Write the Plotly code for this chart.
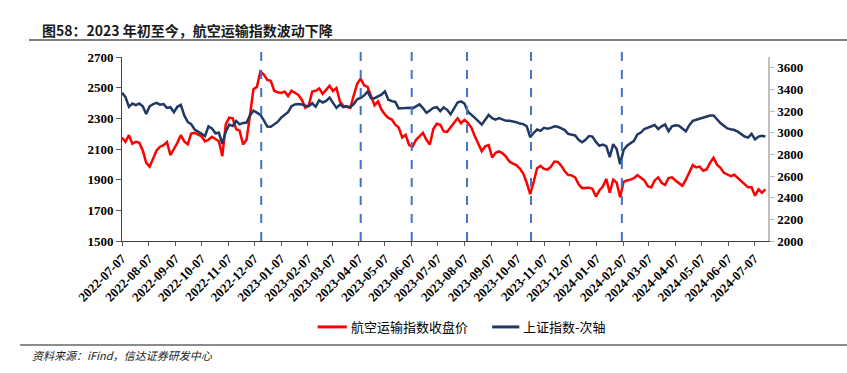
import plotly.graph_objects as go
import pandas as pd

# ---- data ----
dates = pd.date_range('2022-07-07', periods=187, freq='4D')

airline_close = [
    2175, 2147, 2190, 2135, 2147, 2140, 2090, 2010, 1985, 2040,
    2090, 2115, 2125, 2145, 2060, 2100, 2140, 2190, 2150, 2130,
    2200, 2205, 2195, 2183, 2150, 2160, 2180, 2165, 2150, 2053,
    2260, 2305, 2300, 2230, 2220, 2129, 2160, 2320, 2490, 2505,
    2605, 2585, 2550, 2545, 2480, 2470, 2465, 2475, 2445, 2480,
    2465, 2452, 2420, 2368, 2385, 2475, 2480, 2495, 2460, 2490,
    2512, 2478, 2498, 2410, 2380, 2375, 2368, 2450, 2525, 2559,
    2515, 2505, 2440, 2385, 2411, 2357, 2325, 2303, 2292, 2258,
    2240, 2175, 2192, 2125, 2115, 2160, 2183, 2205, 2160, 2129,
    2230, 2265, 2258, 2215, 2212, 2240, 2275, 2300, 2268, 2290,
    2270, 2240, 2183, 2129, 2086, 2118, 2125, 2045, 2075, 2085,
    2072, 2050, 2018, 2005, 1995, 1972, 1940, 1880, 1805, 1885,
    1975, 1990, 1970, 1965, 1985, 2018, 2015, 1990, 1955, 1930,
    1928, 1915, 1870, 1845, 1845, 1848, 1840, 1790, 1830, 1855,
    1905, 1815, 1900, 1880, 1785, 1885, 1895, 1900, 1910, 1930,
    1912, 1895, 1858, 1850, 1895, 1915, 1880, 1865, 1910, 1915,
    1895, 1875, 1860, 1900, 1950, 1995, 1980, 1985, 1958, 1967,
    2010, 2043, 1998, 1978, 1945, 1934, 1923, 1932, 1910, 1890,
    1868, 1850, 1850, 1795, 1837, 1815, 1837,
]

sse_index = [
    3370, 3330, 3240, 3270, 3255, 3270, 3245, 3174, 3245, 3265,
    3276, 3260, 3265, 3230, 3236, 3190, 3240, 3258, 3160, 3100,
    3080, 3030, 3010, 2990, 2970, 3060, 3040, 2995, 3000, 2900,
    3010, 3075, 3062, 3110, 3078, 3091, 3095, 3160, 3205, 3186,
    3165, 3115, 3058, 3055, 3080, 3100, 3140, 3165, 3190, 3245,
    3262, 3265, 3262, 3250, 3245, 3272, 3240, 3300, 3280, 3295,
    3325, 3276, 3230, 3260, 3236, 3245, 3236, 3265, 3310, 3322,
    3345, 3380, 3320, 3320, 3335, 3352, 3383, 3305, 3292, 3285,
    3225, 3228, 3225, 3230, 3225, 3242, 3262, 3228, 3184, 3205,
    3230, 3236, 3200, 3234, 3212, 3170, 3220, 3280, 3290, 3270,
    3195, 3170, 3138, 3107, 3076, 3120, 3165, 3135, 3122, 3135,
    3120, 3110, 3110, 3105, 3098, 3085, 3080, 3060, 2960, 2998,
    3030, 3018, 3045, 3038, 3045, 3060, 3055, 3040, 3025, 2990,
    2980, 2975, 2935, 2912, 2935, 2970, 2965, 2915, 2880, 2890,
    2876, 2775, 2895, 2850, 2710, 2840, 2880, 2900, 2925, 2985,
    3002, 3035, 3048, 3060, 3072, 3035, 3060, 3076, 3014, 3060,
    3070, 3065, 3040, 3014, 3070, 3110, 3120, 3130, 3142, 3155,
    3160, 3160, 3120, 3090, 3065, 3040, 3032, 3025, 3010, 2984,
    2965, 2955, 2990, 2938, 2965, 2972, 2965,
]

event_dates = ['2022-12-15', '2023-04-09', '2023-06-07',
               '2023-08-10', '2023-10-23', '2024-02-05']

x_ticks = [
    '2022-07-07', '2022-08-07', '2022-09-07', '2022-10-07', '2022-11-07',
    '2022-12-07', '2023-01-07', '2023-02-07', '2023-03-07', '2023-04-07',
    '2023-05-07', '2023-06-07', '2023-07-07', '2023-08-07', '2023-09-07',
    '2023-10-07', '2023-11-07', '2023-12-07', '2024-01-07', '2024-02-07',
    '2024-03-07', '2024-04-07', '2024-05-07', '2024-06-07', '2024-07-07',
]
left_ticks = [1500, 1700, 1900, 2100, 2300, 2500, 2700]
right_ticks = [2000, 2200, 2400, 2600, 2800, 3000, 3200, 3400, 3600]

name_red = '航空运输指数收盘价'
name_navy = '上证指数-次轴'
title_text = '图58：2023 年初至今，航空运输指数波动下降'
source_text = '资料来源：iFind，信达证券研发中心'

RED = '#FF0000'
NAVY = '#1F3864'
DASH_BLUE = '#4472C4'
serif_bold = dict(family='Liberation Serif, Times New Roman, serif', size=13,
                  color='black', weight='bold')
cjk = 'Noto Sans CJK SC, sans-serif'

fig = go.Figure()
fig.add_trace(go.Scatter(x=dates, y=airline_close, mode='lines', name=name_red,
                         line=dict(color=RED, width=2.5), yaxis='y'))
fig.add_trace(go.Scatter(x=dates, y=sse_index, mode='lines', name=name_navy,
                         line=dict(color=NAVY, width=2.5), yaxis='y2'))

shapes = []
for d in event_dates:
    shapes.append(dict(type='line', xref='x', yref='paper', x0=d, x1=d, y0=0, y1=1.03,
                       line=dict(color=DASH_BLUE, width=2, dash='dash')))
# title underline and footer separator
shapes.append(dict(type='line', xref='paper', yref='paper', x0=-0.144, x1=1.13,
                   y0=1.092, y1=1.092, line=dict(color='#7f7f7f', width=2)))
shapes.append(dict(type='line', xref='paper', yref='paper', x0=-0.158, x1=1.13,
                   y0=-0.565, y1=-0.565, line=dict(color='#8c8c8c', width=2)))
# legend keys
shapes.append(dict(type='line', xref='paper', yref='paper', x0=0.303, x1=0.348,
                   y0=-0.467, y1=-0.467, line=dict(color=RED, width=3)))
shapes.append(dict(type='line', xref='paper', yref='paper', x0=0.573, x1=0.615,
                   y0=-0.467, y1=-0.467, line=dict(color=NAVY, width=3)))

annotations = [
    dict(text='<b>' + title_text + '</b>', xref='paper', yref='paper', x=-0.127, y=1.147,
         xanchor='left', yanchor='middle', showarrow=False,
         font=dict(family=cjk, size=14, color='#1a1a1a')),
    dict(text=name_red, xref='paper', yref='paper', x=0.351, y=-0.467,
         xanchor='left', yanchor='middle', showarrow=False,
         font=dict(family=cjk, size=13, color='black')),
    dict(text=name_navy, xref='paper', yref='paper', x=0.618, y=-0.467,
         xanchor='left', yanchor='middle', showarrow=False,
         font=dict(family=cjk, size=13, color='black')),
    dict(text=source_text, xref='paper', yref='paper', x=-0.142, y=-0.62,
         xanchor='left', yanchor='middle', showarrow=False,
         font=dict(family=cjk, size=11, color='#222', style='italic')),
]

fig.update_layout(
    width=847, height=373,
    margin=dict(l=122, r=79, t=57, b=132),
    paper_bgcolor='white', plot_bgcolor='white',
    showlegend=False,
    shapes=shapes, annotations=annotations,
    xaxis=dict(type='date', range=['2022-07-07', '2024-07-23'],
               tickvals=x_ticks, ticktext=x_ticks, tickangle=-45,
               ticks='outside', ticklen=4, tickcolor='#595959',
               showline=True, linecolor='#404040', linewidth=1,
               showgrid=False, zeroline=False,
               tickfont=dict(serif_bold, size=13)),
    yaxis=dict(range=[1500, 2700], tickvals=left_ticks,
               ticks='outside', ticklen=5, tickcolor='#595959',
               showline=True, linecolor='#404040', linewidth=1,
               showgrid=False, zeroline=False, tickfont=serif_bold),
    yaxis2=dict(range=[2000, 3700], tickvals=right_ticks, overlaying='y', side='right',
                ticks='outside', ticklen=5, tickcolor='#bfbfbf',
                showline=True, linecolor='#bfbfbf', linewidth=1.5,
                showgrid=False, zeroline=False, tickfont=serif_bold),
)

fig.write_html('out.html', config={'displayModeBar': False},
               post_script="document.body.style.margin='0';document.body.style.padding='0';")
